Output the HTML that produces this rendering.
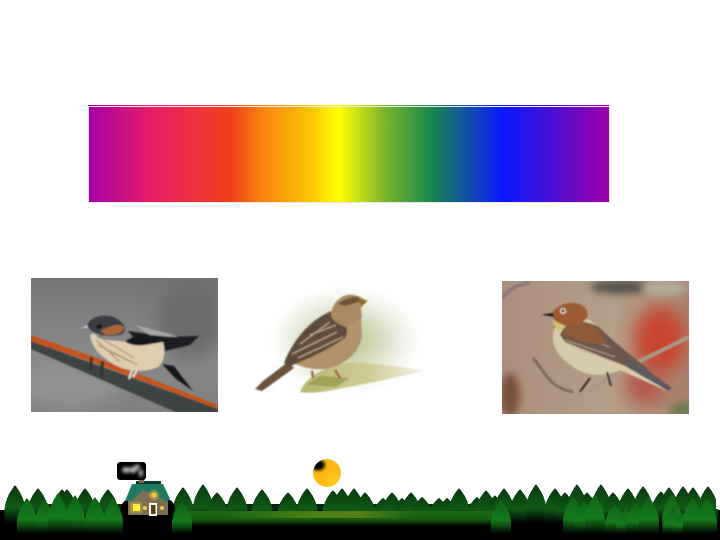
<!DOCTYPE html>
<html><head><meta charset="utf-8">
<style>html,body{margin:0;padding:0;background:#fff}svg{display:block}</style></head>
<body>
<svg id="scene" width="720" height="540" viewBox="0 0 720 540" xmlns="http://www.w3.org/2000/svg">
<defs>
<linearGradient id="spec">
<stop offset="0" stop-color="#a800a8"/><stop offset=".125" stop-color="#e91e63"/><stop offset=".2" stop-color="#ee3040"/><stop offset=".271" stop-color="#ee3f1a"/>
<stop offset=".34" stop-color="#f98a0e"/><stop offset=".42" stop-color="#fdc005"/><stop offset=".48" stop-color="#ffff00"/><stop offset=".57" stop-color="#78b52c"/>
<stop offset=".658" stop-color="#17874a"/><stop offset=".794" stop-color="#0a1aff"/><stop offset=".87" stop-color="#3a10dc"/><stop offset="1" stop-color="#a000a8"/>
</linearGradient>
<linearGradient id="bg1" x1="0" y1="0" x2="0" y2="1"><stop offset="0" stop-color="#737373"/><stop offset=".55" stop-color="#8a8a8a"/><stop offset="1" stop-color="#808080"/></linearGradient>
<radialGradient id="bg2"><stop offset="0" stop-color="#b3bb85"/><stop offset=".55" stop-color="#d8dcc0"/><stop offset="1" stop-color="#fff"/></radialGradient>
<linearGradient id="bg3" x1="0" y1="0" x2="1" y2="0"><stop offset="0" stop-color="#ab8f7c"/><stop offset=".6" stop-color="#b59f8a"/><stop offset="1" stop-color="#a8806e"/></linearGradient>
<linearGradient id="plank"><stop offset="0" stop-color="#b8b672"/><stop offset=".55" stop-color="#cfcb96"/><stop offset="1" stop-color="#f4f2e4"/></linearGradient>
<linearGradient id="backTree" x1="0" y1="0" x2="0" y2="1"><stop offset="0" stop-color="#0a3a0f"/><stop offset=".6" stop-color="#0f5a16"/><stop offset="1" stop-color="#000"/></linearGradient>
<linearGradient id="frontTree" x1="0" y1="0" x2="0" y2="1"><stop offset="0" stop-color="#0f6216"/><stop offset=".6" stop-color="#157a1c"/><stop offset="1" stop-color="#000"/></linearGradient>
<linearGradient id="grass" x1="0" y1="0" x2="0" y2="1"><stop offset="0" stop-color="#1f6a12"/><stop offset=".6" stop-color="#125a10"/><stop offset="1" stop-color="#000"/></linearGradient>
<linearGradient id="grassH"><stop offset="0" stop-color="#3a7a14" stop-opacity="0"/><stop offset=".4" stop-color="#4a7e16"/><stop offset=".7" stop-color="#587e18"/><stop offset="1" stop-color="#3a7a14" stop-opacity="0"/></linearGradient>
<filter id="b1" x="-30%" y="-30%" width="160%" height="160%"><feGaussianBlur stdDeviation=".8"/></filter>
<filter id="b2" x="-60%" y="-60%" width="220%" height="220%"><feGaussianBlur stdDeviation="1.500"/></filter>
<filter id="b3" x="-60%" y="-60%" width="220%" height="220%"><feGaussianBlur stdDeviation="4"/></filter>
<filter id="b8" x="-80%" y="-80%" width="260%" height="260%"><feGaussianBlur stdDeviation="9"/></filter>
<clipPath id="c1"><rect x="31" y="278" width="187" height="134"/></clipPath>
<clipPath id="c3"><rect x="502" y="281" width="187" height="133"/></clipPath>
<clipPath id="moonClip"><circle cx="327" cy="473" r="14"/></clipPath>
</defs>

<g>
<rect x="88" y="105" width="521" height="1" fill="url(#spec)"/>
<rect x="88" y="106" width="522" height="97" fill="#e8e8e8"/>
<rect x="89" y="107" width="520" height="95" fill="url(#spec)"/>
</g>

<g clip-path="url(#c1)">
<rect x="31" y="278" width="187" height="134" fill="url(#bg1)"/>
<ellipse cx="190" cy="320" rx="34" ry="40" fill="#6c6c6c" filter="url(#b8)"/>
<ellipse cx="70" cy="385" rx="50" ry="22" fill="#929292" filter="url(#b8)"/>
<g filter="url(#b1)">
<path d="M31 341L218 409V414H180L31 349Z" fill="#3d4442"/>
<path d="M31 335L100 359L218 405V409L100 365L31 341Z" fill="#c4521c"/>
<path d="M90 357h3l-1 13h-3zM101 361h3l-1 15h-3z" fill="#30302c"/>
<path d="M162 364L174 366L193 391L176 379Z" fill="#15151a"/>
<path d="M128 331L168 337L199 336L190 345L165 351L144 350Z" fill="#1b1b22"/>
<path d="M135 325L170 334L178 337L150 335Z" fill="#a8a8a8"/>
<path d="M90 335C92 333 96 333 98 338C110 342 130 340 145 345L163 342C166 352 164 362 158 367C145 373 125 372 112 363C100 356 92 348 90 335Z" fill="#e0cdb0"/>
<path d="M98 345l40 20M104 340l30 18M110 352l26 12M96 340l24 22" stroke="#a08868" stroke-width="1.500" fill="none" opacity=".7"/>
<path d="M125 342C135 333 150 335 156 336L158 340C150 345 140 347 130 344Z" fill="#17161f"/>
<path d="M87 325C92 314 112 312 122 323C127 328 125 335 118 335C105 338 90 333 87 325Z" fill="#3a3c42"/>
<path d="M100 331C108 327 118 322 124 327C124 333 115 336 106 335Z" fill="#a8683a"/>
<ellipse cx="99" cy="326.500" rx="3" ry="2" fill="#0a0a0a"/>
<path d="M87 325L81 328L88 328Z" fill="#c8c8c8"/>
<path d="M132 370l-3 9M137 370l-4 7" stroke="#e0dfdb" stroke-width="2"/>
</g>
</g>

<g>
<ellipse cx="345" cy="340" rx="72" ry="48" fill="url(#bg2)" filter="url(#b8)"/>
<g filter="url(#b1)">
<path d="M300 392C305 378 325 365 353 362C385 364 405 367 424 371C395 378 365 384 342 388C325 392 310 394 300 392Z" fill="url(#plank)"/>
<path d="M306 385L320 376L350 378L336 387Z" fill="#a3a25a"/>
<path d="M255 389L263 381L288 362L294 368L272 384L262 391Z" fill="#6e5238"/>
<path d="M288 359C300 338 318 318 330 311L361 316L362 335C360 352 345 366 325 369C310 370 296 366 288 359Z" fill="#b0926c"/>
<path d="M284 363C293 340 310 320 330 312C345 316 350 330 345 338C325 352 305 360 288 367Z" fill="#5f4c3a"/>
<path d="M292 354l45-22M298 358l45-21M300 344l30-22M310 335l26-10" stroke="#b6a488" stroke-width="1.300" fill="none"/>
<path d="M331 314C333 300 345 291 358 296L367 301L361 308L362 318L345 327C338 324 331 320 331 314Z" fill="#a78a63"/>
<path d="M338 304C345 298 355 295 360 298L362 301L345 306Z" fill="#6e5539"/>
<path d="M358 298L368 301L361 306Z" fill="#8f6d28"/>
<path d="M312 371l1 7M335 370l5 8" stroke="#a85c30" stroke-width="2.500"/>
</g>
</g>

<g clip-path="url(#c3)">
<rect x="502" y="281" width="187" height="133" fill="url(#bg3)"/>
<ellipse cx="660" cy="340" rx="26" ry="34" fill="#c8452f" filter="url(#b8)"/>
<ellipse cx="645" cy="385" rx="20" ry="20" fill="#b4564a" filter="url(#b8)"/>
<ellipse cx="620" cy="287" rx="30" ry="7" fill="#55524a" filter="url(#b3)"/>
<ellipse cx="665" cy="288" rx="24" ry="8" fill="#b2ab98" filter="url(#b3)"/>
<ellipse cx="510" cy="395" rx="10" ry="22" fill="#7a5040" filter="url(#b3)"/>
<ellipse cx="684" cy="410" rx="14" ry="8" fill="#6a7a50" filter="url(#b3)"/>
<path d="M502 298C510 288 520 284 530 283" stroke="#8c7a74" stroke-width="4" fill="none" filter="url(#b1)"/>
<g filter="url(#b1)">
<path d="M538 413L578 396L615 375L642 360L689 337" stroke="#a99a88" stroke-width="4" fill="none"/>
<path d="M533 358C540 366 545 376 552 382C558 388 565 390 573 392" stroke="#7d6a60" stroke-width="3" fill="none"/>
<path d="M553 335C553 322 570 315 590 320L630 360L671 388L667 391L620 370C605 377 585 377 572 366C560 358 552 348 553 335Z" fill="#d6cbac"/>
<path d="M560 335C565 320 585 318 600 328C612 340 630 355 650 370L630 368C610 360 585 350 565 342Z" fill="#6e5648"/>
<path d="M565 340l50 17M570 346l50 18M575 335l35 12" stroke="#c0b4a0" stroke-width="1.300" fill="none" opacity=".7"/>
<path d="M566 328C575 318 590 320 600 332L606 345L585 342L563 335Z" fill="#8e5a38"/>
<path d="M552 314C556 304 575 298 585 308C592 316 585 324 570 326C560 328 555 322 552 314Z" fill="#9c5a32"/>
<circle cx="563" cy="311" r="3" fill="#e8e2d8"/><circle cx="563" cy="311" r="1.600" fill="#1a1410"/>
<path d="M553 313L541 314.500L554 317Z" fill="#1d1a18"/>
<path d="M552 320L566 326L558 331Z" fill="#cfc06a"/>
<path d="M630 358L672 388L668 391L625 366Z" fill="#5d5a5c"/>
<path d="M590 378l-10 14M607 372l4 14" stroke="#2a2a28" stroke-width="2"/>
</g>
</g>

<g id="landscape">
<rect x="6" y="504" width="710" height="10" fill="#06280a"/>
<rect x="0" y="510" width="720" height="30" fill="#000"/>
<g id="backTrees" shape-rendering="crispEdges"></g>
<rect x="0" y="523" width="720" height="17" fill="#000"/>
<rect x="185" y="511" width="320" height="15" fill="url(#grass)"/>
<rect x="220" y="511" width="200" height="7" fill="url(#grassH)"/>
<g id="frontTrees" shape-rendering="crispEdges"></g>
<rect x="716" y="480" width="4" height="29" fill="#fff"/>
</g>

<g>
<ellipse cx="148" cy="508" rx="27" ry="14" fill="#000"/>
<path d="M128 515V496L136 486H160L168 496V515Z" fill="#7a6e54"/>
<path d="M125 501L132 484H163L170 499L167 502L158 496L143 490L131 501Z" fill="#1f7a62"/>
<path d="M136 484H161V481H136Z" fill="#0b3a30"/>
<circle cx="154" cy="495" r="5" fill="#e8c040" opacity=".5" filter="url(#b1)"/>
<circle cx="154" cy="495" r="2.500" fill="#f0c840"/>
<rect x="130" y="502" width="12" height="11" fill="#d8c040" opacity=".5" filter="url(#b1)"/>
<rect x="133" y="504" width="7" height="7" fill="#ffee33"/>
<circle cx="145" cy="508" r="2" fill="#f4c850"/><circle cx="162" cy="508" r="2" fill="#f4c850"/>
<rect x="149" y="503" width="8" height="13" fill="#fff"/><rect x="151" y="505" width="4.500" height="9" fill="#5a3d10"/>
<rect x="139" y="477" width="5" height="6" fill="#7a6a50"/>
</g>
<g>
<rect x="117" y="462" width="29" height="18" rx="3" fill="#000"/>
<g filter="url(#b2)" fill="#b4b4b4">
<ellipse cx="126" cy="470" rx="4" ry="3"/><ellipse cx="133" cy="470" rx="4" ry="3"/><ellipse cx="137" cy="467" rx="3" ry="2.500"/><ellipse cx="141" cy="473" rx="2" ry="4"/>
</g>
</g>
<g clip-path="url(#moonClip)">
<circle cx="327" cy="473" r="14" fill="#fdb813"/>
<ellipse cx="334" cy="480" rx="8" ry="7" fill="#ffc71a" filter="url(#b2)"/>
<ellipse cx="318" cy="465" rx="7" ry="5.500" fill="#000" filter="url(#b2)"/>
</g>

<script>
const backTreeCenters = [15,38,62,67,85,108,183,203,217,237,262,288,307,333,342,354,365,383,392,402,411,422,439,447,459,477,486,495,504,520,536,555,565,577,587,601,613,628,643,661,669,683,693,708];
const backTreeTops = [485,488,489,489,488,489,487,484,492,487,489,492,488,490,488,488,492,498,492,498,492,497,498,498,488,497,490,495,488,489,484,488,492,484,492,484,492,488,486,491,487,486,487,486];
const frontTreeCenters = [27,45,58,75,95,113,182,501,573,584,595,615,626,636,649,672,673,683,693,707];
const frontTreeTops = [498,500,493,495,497,498,502,500,496,501,494,504,509,503,497,494,509,513,497,498];
const backTreeWidth = 21;
const frontTreeWidth = 20;
function drawTree(parent, cx, top, w, fill, bottom, name){
  const h = bottom - top;
  const p = document.createElementNS('http://www.w3.org/2000/svg','path');
  
  
  const d = 'M' + cx + ' ' + top +
    'C' + (cx - w*0.1) + ' ' + (top + h*0.08) + ' ' + (cx - w*0.42) + ' ' + (top + h*0.28) + ' ' + (cx - w*0.5) + ' ' + (top + h*0.62) +
    'V' + bottom + 'H' + (cx + w*0.5) + 'V' + (top + h*0.62) +
    'C' + (cx + w*0.42) + ' ' + (top + h*0.28) + ' ' + (cx + w*0.1) + ' ' + (top + h*0.08) + ' ' + cx + ' ' + top + 'Z';
  p.setAttribute('d', d);
  p.setAttribute('fill', fill);
  parent.appendChild(p);
}
const backGroup = document.getElementById('backTrees');
backTreeCenters.forEach(function(x, i){ drawTree(backGroup, x, backTreeTops[i], backTreeWidth, 'url(#backTree)', 523, 'back-tree'); });
const frontGroup = document.getElementById('frontTrees');
frontTreeCenters.forEach(function(x, i){ drawTree(frontGroup, x, frontTreeTops[i], frontTreeWidth, 'url(#frontTree)', 534, 'front-tree'); });
</script>
</svg>
</body></html>
